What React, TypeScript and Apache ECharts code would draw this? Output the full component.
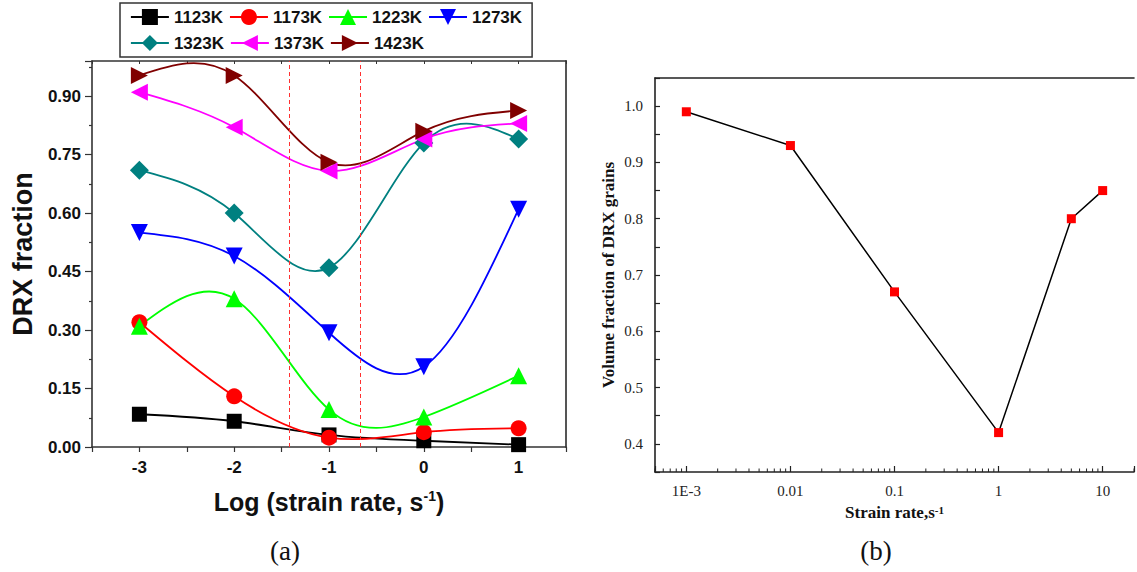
import React, { useEffect, useRef } from 'react';
import * as echarts from 'echarts';

// ---------- Panel (a) data ----------
const logRates = [-3, -2, -1, 0, 1];
const tempLabels = ['1123K', '1173K', '1223K', '1273K', '1323K', '1373K', '1423K'];
const drx1123 = [0.084, 0.066, 0.031, 0.016, 0.006];
const drx1173 = [0.32, 0.13, 0.024, 0.038, 0.048];
const drx1223 = [0.31, 0.38, 0.096, 0.077, 0.183];
const drx1273 = [0.55, 0.49, 0.293, 0.206, 0.61];
const drx1323 = [0.71, 0.6, 0.46, 0.78, 0.79];
const drx1373 = [0.91, 0.82, 0.708, 0.79, 0.83];
const drx1423 = [0.953, 0.953, 0.73, 0.81, 0.863];
const dashedLinesX = [-1.42, -0.67];

// ---------- Panel (b) data ----------
const strainRates = [0.001, 0.01, 0.1, 1, 5, 10];
const volFraction = [0.99, 0.93, 0.67, 0.42, 0.8, 0.85];

const seriesValues = [drx1123, drx1173, drx1223, drx1273, drx1323, drx1373, drx1423];
const seriesColors = ['#000000', '#ff0000', '#00ff00', '#0000ff', '#008080', '#ff00ff', '#800000'];
const seriesSymbols = ['rect', 'circle', 'triangle', 'triangle', 'diamond', 'triangle', 'triangle'];
const seriesRotate = [0, 0, 0, 180, 0, 90, -90];
const seriesSizes = [15, 16, 17, 17, 19, 17, 17];

const SANS = '"Liberation Sans", Arial, sans-serif';
const SERIF = '"Liberation Serif", "Times New Roman", serif';

// log minor tick positions for panel (b) axis
const minorLogTicks: number[] = [];
for (let e = -4; e <= 1; e++) {
  for (let m = 2; m <= 9; m++) {
    const v = m * Math.pow(10, e);
    if (v >= 0.0005 && v <= 20) minorLogTicks.push(v);
  }
}

// natural cubic spline end slopes (curve rendering through the data points, like Origin's "Spline" connector)
function splineSlopes(xs: number[], ys: number[]): number[] {
  const n = xs.length;
  const h: number[] = [];
  for (let i = 0; i < n - 1; i++) h.push(xs[i + 1] - xs[i]);
  const M = new Array(n).fill(0);
  if (n > 2) {
    const a: number[] = [], b: number[] = [], c: number[] = [], d: number[] = [];
    for (let i = 1; i < n - 1; i++) {
      a.push(h[i - 1]);
      b.push(2 * (h[i - 1] + h[i]));
      c.push(h[i]);
      d.push(6 * ((ys[i + 1] - ys[i]) / h[i] - (ys[i] - ys[i - 1]) / h[i - 1]));
    }
    const m = b.length;
    for (let i = 1; i < m; i++) {
      const w = a[i] / b[i - 1];
      b[i] -= w * c[i - 1];
      d[i] -= w * d[i - 1];
    }
    const sol = new Array(m);
    sol[m - 1] = d[m - 1] / b[m - 1];
    for (let i = m - 2; i >= 0; i--) sol[i] = (d[i] - c[i] * sol[i + 1]) / b[i];
    for (let i = 0; i < m; i++) M[i + 1] = sol[i];
  }
  const s: number[] = [];
  for (let i = 0; i < n - 1; i++) s.push((ys[i + 1] - ys[i]) / h[i] - (h[i] * (2 * M[i] + M[i + 1])) / 6);
  s.push((ys[n - 1] - ys[n - 2]) / h[n - 2] + (h[n - 2] * (M[n - 2] + 2 * M[n - 1])) / 6);
  return s;
}

function buildOption(): any {
  const axisLineStyle = { color: '#333', width: 1.6 };

  const markerSeries = tempLabels.map((name, i) => ({
    name,
    type: 'line',
    xAxisIndex: 0,
    yAxisIndex: 0,
    data: logRates.map((x, j) => [x, seriesValues[i][j]]),
    symbol: seriesSymbols[i],
    symbolSize: seriesSizes[i],
    symbolRotate: seriesRotate[i],
    showAllSymbol: true,
    itemStyle: { color: seriesColors[i] },
    lineStyle: { color: seriesColors[i], width: 1.8, opacity: 0 },
    z: 5 + i,
    ...(i === 0
      ? {
          markLine: {
            silent: true,
            symbol: ['none', 'none'],
            label: { show: false },
            lineStyle: { color: '#ff3030', type: [4, 3], width: 1, opacity: 1 },
            data: dashedLinesX.map((x) => ({ xAxis: x })),
          },
        }
      : {}),
  }));

  const curveSeries = tempLabels.map((name, i) => {
    const ys = seriesValues[i];
    const slopes = splineSlopes(logRates, ys);
    return {
      name: name + ' curve',
      type: 'custom',
      xAxisIndex: 0,
      yAxisIndex: 0,
      silent: true,
      z: 3,
      data: logRates.map((x, j) => [x, ys[j]]),
      renderItem: (params: any, api: any) => {
        const k = params.dataIndex;
        if (k >= logRates.length - 1) return { type: 'group', children: [] };
        const x0 = logRates[k], x1 = logRates[k + 1];
        const h = x1 - x0;
        const p0 = api.coord([x0, ys[k]]);
        const p1 = api.coord([x1, ys[k + 1]]);
        const c1 = api.coord([x0 + h / 3, ys[k] + (slopes[k] * h) / 3]);
        const c2 = api.coord([x1 - h / 3, ys[k + 1] - (slopes[k + 1] * h) / 3]);
        return {
          type: 'bezierCurve',
          shape: { x1: p0[0], y1: p0[1], x2: p1[0], y2: p1[1], cpx1: c1[0], cpy1: c1[1], cpx2: c2[0], cpy2: c2[1] },
          style: { stroke: seriesColors[i], lineWidth: 1.8, fill: null },
        };
      },
    };
  });

  return {
    animation: false,
    backgroundColor: '#ffffff',
    legend: {
      data: tempLabels,
      left: 120,
      top: 3,
      width: 400,
      padding: [4, 10, 4, 10],
      itemWidth: 38,
      itemHeight: 20,
      itemGap: 6,
      borderColor: '#333',
      borderWidth: 1.5,
      lineStyle: { opacity: 1, width: 1.8 },
      textStyle: { fontFamily: SANS, fontWeight: 'bold', fontSize: 17, color: '#111', lineHeight: 20 },
    },
    grid: [
      { left: 92, top: 61, width: 474, height: 386 },
      { left: 655, top: 78, width: 485, height: 394 },
    ],
    xAxis: [
      {
        type: 'value',
        gridIndex: 0,
        min: -3.5,
        max: 1.5,
        interval: 0.5,
        splitLine: { show: false },
        axisLine: { onZero: false, lineStyle: axisLineStyle },
        axisTick: { inside: false, length: 5, lineStyle: { color: '#333', width: 1.2 } },
        axisLabel: {
          margin: 12,
          fontFamily: SANS,
          fontWeight: 'bold',
          fontSize: 17,
          color: '#111',
          formatter: (v: number) => (Math.abs(v - Math.round(v)) < 1e-6 ? String(Math.round(v)) : ''),
        },
        name: '{m|Log (strain rate, s}{sup|-1}{m|)}',
        nameLocation: 'middle',
        nameGap: 42,
        nameTextStyle: {
          rich: {
            m: { fontFamily: SANS, fontWeight: 'bold', fontSize: 25, color: '#111' },
            sup: { fontFamily: SANS, fontWeight: 'bold', fontSize: 14, color: '#111', verticalAlign: 'top' },
          },
        },
      },
      {
        type: 'value',
        gridIndex: 0,
        position: 'top',
        min: -3.5,
        max: 1.5,
        interval: 0.5,
        splitLine: { show: false },
        axisLine: { onZero: false, lineStyle: axisLineStyle },
        axisTick: { inside: true, length: 3, lineStyle: { color: '#333', width: 1 } },
        axisLabel: { show: false },
      },
      {
        type: 'log',
        gridIndex: 1,
        logBase: 10,
        min: 0.0005,
        max: 20,
        splitLine: { show: false },
        axisLine: { onZero: false, lineStyle: { color: '#222', width: 1.6 } },
        axisTick: { inside: true, length: 6, lineStyle: { color: '#222', width: 1.2 } },
        axisLabel: {
          margin: 11,
          fontFamily: SERIF,
          fontSize: 15,
          color: '#222',
          formatter: (v: number) => {
            const e = Math.log10(v);
            const r = Math.round(e);
            if (Math.abs(e - r) > 1e-6) return '';
            if (r === -3) return '1E-3';
            if (r < 0) return Math.pow(10, r).toFixed(-r);
            return String(Math.pow(10, r));
          },
        },
        name: '{m|Strain rate,s}{sup|-1}',
        nameLocation: 'middle',
        nameGap: 32,
        nameTextStyle: {
          rich: {
            m: { fontFamily: SERIF, fontWeight: 'bold', fontSize: 17, color: '#111' },
            sup: { fontFamily: SERIF, fontWeight: 'bold', fontSize: 11, color: '#111', verticalAlign: 'top' },
          },
        },
      },
      {
        type: 'value',
        gridIndex: 1,
        position: 'top',
        min: 0,
        max: 1,
        splitLine: { show: false },
        axisLine: { onZero: false, lineStyle: { color: '#222', width: 1.6 } },
        axisTick: { show: false },
        axisLabel: { show: false },
      },
    ],
    yAxis: [
      {
        type: 'value',
        gridIndex: 0,
        min: 0,
        max: 0.99,
        interval: 0.15,
        splitLine: { show: false },
        minorTick: { show: true, splitNumber: 2, length: 3, lineStyle: { color: '#333', width: 1.2 } },
        minorSplitLine: { show: false },
        axisLine: { onZero: false, lineStyle: axisLineStyle },
        axisTick: { inside: false, length: 7, lineStyle: { color: '#333', width: 1.2 } },
        axisLabel: {
          margin: 11,
          fontFamily: SANS,
          fontWeight: 'bold',
          fontSize: 17,
          color: '#111',
          formatter: (v: number) => {
            const k = v / 0.15;
            return Math.abs(k - Math.round(k)) < 1e-6 ? v.toFixed(2) : '';
          },
        },
        name: 'DRX fraction',
        nameLocation: 'middle',
        nameGap: 56,
        nameTextStyle: { fontFamily: SANS, fontWeight: 'bold', fontSize: 27, color: '#111' },
      },
      {
        type: 'value',
        gridIndex: 0,
        position: 'right',
        min: 0,
        max: 0.99,
        splitLine: { show: false },
        axisLine: { onZero: false, lineStyle: { color: '#555', width: 2 } },
        axisTick: { show: false },
        axisLabel: { show: false },
      },
      {
        type: 'value',
        gridIndex: 1,
        min: 0.35,
        max: 1.05,
        interval: 0.05,
        splitLine: { show: false },
        axisLine: { onZero: false, lineStyle: { color: '#222', width: 1.6 } },
        axisTick: { inside: true, length: 5, lineStyle: { color: '#222', width: 1.2 } },
        axisLabel: {
          margin: 12,
          fontFamily: SERIF,
          fontSize: 15,
          color: '#222',
          formatter: (v: number) => {
            const r = Math.round(v * 100);
            return r % 10 === 0 ? (r / 100).toFixed(1) : '';
          },
        },
        name: 'Volume fraction of DRX grains',
        nameLocation: 'middle',
        nameGap: 38,
        nameTextStyle: { fontFamily: SERIF, fontWeight: 'bold', fontSize: 17, color: '#111' },
      },
    ],
    graphic: [
      {
        type: 'text',
        x: 285,
        y: 551,
        style: { text: '(a)', font: `27px ${SERIF}`, fill: '#111', textAlign: 'center', textVerticalAlign: 'middle' },
      },
      {
        type: 'text',
        x: 876,
        y: 551,
        style: { text: '(b)', font: `27px ${SERIF}`, fill: '#111', textAlign: 'center', textVerticalAlign: 'middle' },
      },
    ],
    series: [
      ...curveSeries,
      ...markerSeries,
      {
        name: 'Volume fraction',
        type: 'line',
        xAxisIndex: 2,
        yAxisIndex: 2,
        data: strainRates.map((r, i) => [r, volFraction[i]]),
        symbol: 'rect',
        symbolSize: 9,
        itemStyle: { color: '#ff0000' },
        lineStyle: { color: '#000', width: 1.5 },
        z: 5,
      },
      {
        name: 'minorTicks',
        type: 'custom',
        xAxisIndex: 2,
        yAxisIndex: 2,
        silent: true,
        clip: false,
        data: minorLogTicks.map((v) => [v, 0.35]),
        renderItem: (params: any, api: any) => {
          const p = api.coord([api.value(0), api.value(1)]);
          return {
            type: 'line',
            shape: { x1: p[0], y1: p[1], x2: p[0], y2: p[1] - 3.5 },
            style: { stroke: '#222', lineWidth: 1 },
          };
        },
      },
    ],
  };
}

export default function App() {
  const ref = useRef<HTMLDivElement>(null);
  useEffect(() => {
    if (!ref.current) return;
    const chart = echarts.init(ref.current, null, { renderer: 'svg' });
    chart.setOption(buildOption());
    return () => chart.dispose();
  }, []);
  return (
    <div
      ref={ref}
      style={{ position: 'absolute', left: 0, top: 0, width: 1137, height: 572, background: '#fff' }}
    />
  );
}
